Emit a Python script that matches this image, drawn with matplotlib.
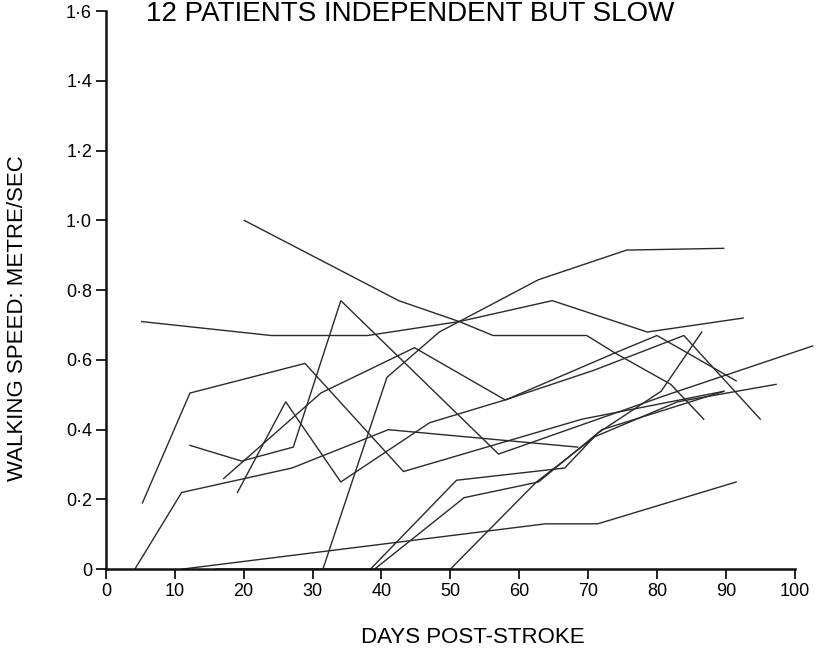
"""
Walking speed recovery after stroke: 12 patients independent but slow.
"""

import matplotlib
matplotlib.use("Agg")
import matplotlib.pyplot as plt
import matplotlib.ticker as ticker

# days post-stroke / walking speed (metre/sec), one pair per patient
days_a = [20.1, 42.5, 51.3, 56.2, 69.8, 73.9, 82.0, 86.8]
speed_a = [1.00, 0.77, 0.71, 0.67, 0.67, 0.62, 0.53, 0.43]

days_b = [5.2, 24.0, 38.0, 51.3, 64.8, 78.6, 92.5]
speed_b = [0.71, 0.67, 0.67, 0.71, 0.77, 0.68, 0.72]

days_c = [5.3, 12.2, 28.9, 43.2, 69.1, 89.7]
speed_c = [0.19, 0.505, 0.59, 0.28, 0.43, 0.51]

days_d = [4.2, 11.0, 27.0, 41.0, 68.5]
speed_d = [0.0, 0.22, 0.29, 0.40, 0.35]

days_e = [19.1, 26.1, 34.1, 47.0, 57.9, 70.8, 83.9, 95.0]
speed_e = [0.22, 0.48, 0.25, 0.42, 0.485, 0.57, 0.67, 0.43]

days_f = [17.1, 31.2, 44.8, 58.0, 73.9, 80.0, 91.5]
speed_f = [0.26, 0.505, 0.635, 0.485, 0.62, 0.67, 0.54]

days_g = [12.2, 19.7, 27.2, 34.1, 57.0, 81.5, 102.6]
speed_g = [0.355, 0.31, 0.35, 0.77, 0.33, 0.50, 0.64]

days_h = [31.5, 40.8, 48.4, 62.8, 75.6, 89.7]
speed_h = [0.0, 0.55, 0.68, 0.83, 0.915, 0.92]

days_i = [16.0, 38.4, 50.9, 66.6, 71.4, 80.6, 86.5]
speed_i = [0.0, 0.0, 0.255, 0.29, 0.39, 0.51, 0.68]

days_j = [39.0, 52.0, 62.8, 72.0, 89.7]
speed_j = [0.0, 0.205, 0.25, 0.40, 0.51]

days_k = [11.0, 63.8, 71.4, 91.5]
speed_k = [0.0, 0.13, 0.13, 0.25]

days_l = [16.0, 50.0, 62.5, 71.0, 83.0, 97.3]
speed_l = [0.0, 0.0, 0.25, 0.38, 0.48, 0.53]

patients = [
    (days_a, speed_a), (days_b, speed_b), (days_c, speed_c), (days_d, speed_d),
    (days_e, speed_e), (days_f, speed_f), (days_g, speed_g), (days_h, speed_h),
    (days_i, speed_i), (days_j, speed_j), (days_k, speed_k), (days_l, speed_l),
]

x_ticks = list(range(0, 101, 10))
y_ticks = [0, 0.2, 0.4, 0.6, 0.8, 1.0, 1.2, 1.4, 1.6]
y_labels = ["0", "0·2", "0·4", "0·6", "0·8", "1·0", "1·2", "1·4", "1·6"]

plt.rcParams["font.family"] = ["Liberation Sans", "DejaVu Sans"]

fig = plt.figure(figsize=(8.21, 6.58), dpi=100)
ax = fig.add_axes([0.129, 0.135, 0.839, 0.848])

for d, s in patients:
    ax.plot(d, s, color="#2a2a2a", linewidth=1.0, clip_on=False,
            solid_joinstyle="miter")

ax.set_xlim(0, 100)
ax.set_ylim(0, 1.6)
ax.set_xticks(x_ticks)
ax.set_yticks(y_ticks)
ax.set_yticklabels(y_labels)
ax.yaxis.set_minor_locator(ticker.NullLocator())

for side in ("top", "right"):
    ax.spines[side].set_visible(False)
for side in ("left", "bottom"):
    ax.spines[side].set_linewidth(1.8)
    ax.spines[side].set_color("#111111")

ax.tick_params(axis="both", direction="out", length=7, width=1.3,
               labelsize=13, color="#111111", pad=3)

ax.set_xlabel("DAYS POST-STROKE", fontsize=16)
ax.xaxis.set_label_coords(0.533, -0.104)
ax.set_ylabel("WALKING SPEED: METRE/SEC", fontsize=16)
ax.yaxis.set_label_coords(-0.113, 0.45)

# title is cropped at the page edge in the source; keep it just inside
fig.text(0.5, 0.999, "12 PATIENTS INDEPENDENT BUT SLOW",
         fontsize=20, ha="center", va="top")

fig.savefig("out.png", dpi=100, facecolor="white")
